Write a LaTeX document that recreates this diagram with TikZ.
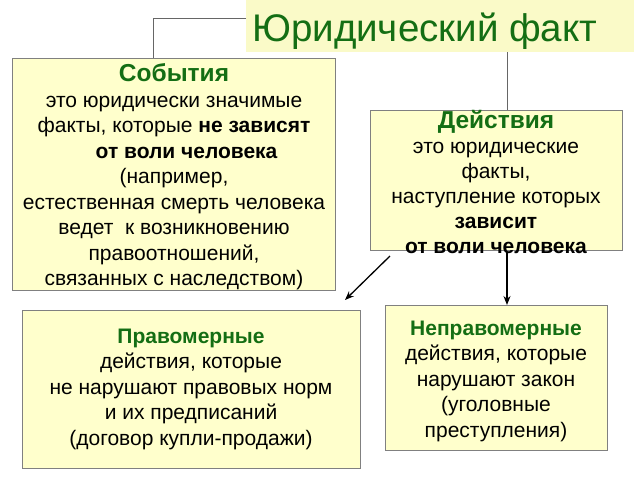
\documentclass[tikz,border=0pt]{standalone}
\usepackage{fontspec}
\setmainfont{Liberation Sans}
\usetikzlibrary{arrows.meta}
\definecolor{boxfill}{RGB}{255,255,204}
\definecolor{titlefill}{RGB}{250,250,200}
\definecolor{hgreen}{RGB}{20,110,20}
\definecolor{bordergray}{RGB}{128,128,128}
\tikzset{
  box/.style={draw=bordergray, line width=0.8pt, fill=boxfill, inner sep=0pt},
  txt/.style={align=center, inner sep=0pt, font=\fontsize{21}{25.5}\selectfont},
  conn/.style={draw=bordergray!80!black, line width=0.8pt},
  arr/.style={line width=1.3pt, -{Stealth[length=9pt,width=7pt]}},
}
\newcommand{\hd}[1]{\textbf{\textcolor{hgreen}{#1}}}
\newcommand{\bighd}[1]{\textbf{\textcolor{hgreen}{\fontsize{24.5}{25.5}\selectfont #1}}}
\begin{document}
\begin{tikzpicture}[x=1pt,y=-1pt]
\useasboundingbox (0,0) rectangle (640,480);
% title
\node[fill=titlefill, minimum width=388pt, minimum height=52pt, inner sep=0pt, anchor=north west] (title) at (246,0) {};
\node[anchor=base west, text=hgreen, font=\fontsize{38.5}{40}\selectfont, inner sep=0pt] (titletext) at (252,41) {Юридический факт};
% boxes
\node[box, minimum width=323pt, minimum height=232pt, anchor=north west] (ev) at (12,58) {};
\node[txt] (evt) at (174,177)
 {\bighd{События}\\это юридически значимые\\факты, которые \textbf{не зависят}\\\hspace*{1.2em}\textbf{от воли человека}\\(например,\\естественная смерть человека\\ведет\ \ к возникновению\\правоотношений,\\связанных с наследством)};
\node[box, minimum width=252pt, minimum height=140pt, anchor=north west] (act) at (370,110) {};
\node[txt, font=\fontsize{21}{25}\selectfont] (actt) at (496,182)
 {\bighd{Действия}\\это юридические\\факты,\\наступление которых\\\textbf{зависит}\\\textbf{от воли человека}};
\node[box, minimum width=338pt, minimum height=158pt, anchor=north west] (pr) at (22,310) {};
\node[txt] (prt) at (191,389)
 {\hd{Правомерные}\\действия, которые\\не нарушают правовых норм\\и их предписаний\\(договор купли-продажи)};
\node[box, minimum width=222pt, minimum height=145pt, anchor=north west] (npr) at (385,305) {};
\node[txt] (nprt) at (496,381)
 {\hd{Неправомерные}\\действия, которые\\нарушают закон\\(уголовные\\преступления)};
% connectors
\coordinate (tl) at (246,18);
\coordinate (evtop) at (153,58);
\coordinate (tb) at (507,52);
\coordinate (acttop) at (507,110);
\draw[conn] (tl) -| (evtop);
\draw[conn] (tb) -- (acttop);
\coordinate (a1) at (390,256);
\coordinate (a2) at (345,300);
\coordinate (b1) at (507,252);
\coordinate (b2) at (507,305);
\draw[arr] (a1) -- (a2);
\draw[arr] (b1) -- (b2);
\end{tikzpicture}
\end{document}
